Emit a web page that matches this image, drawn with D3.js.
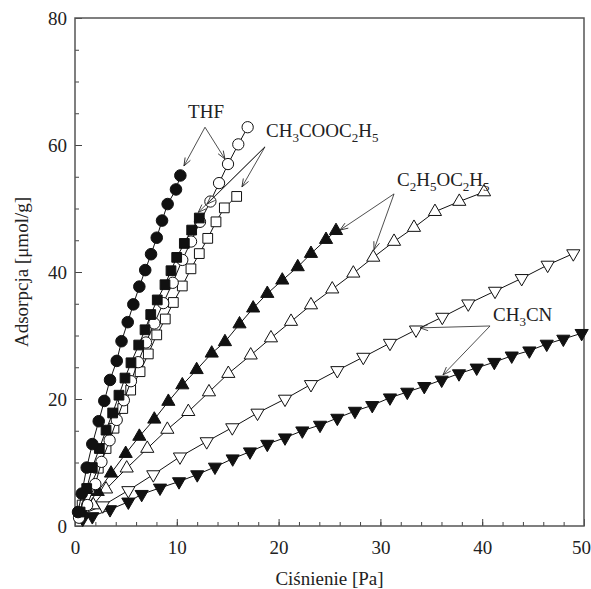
<!DOCTYPE html>
<html>
<head>
<meta charset="utf-8">
<script src="https://cdn.jsdelivr.net/npm/d3@7"></script>
<style>
  body { margin: 0; background: #fff; }
  svg text { font-family: "Liberation Serif", "Times New Roman", serif; fill: #222; }
</style>
</head>
<body>
<script>
// chart size
var width = 591;
var height = 589;
var margin = {top: 18, right: 7, bottom: 63, left: 75};

// THF, filled circles
var thfFilledX = [0.3, 0.66, 1.15, 1.7, 2.33, 2.88, 3.44, 4.1, 4.57, 5.18, 5.73, 6.32, 6.9, 7.47, 8.03, 8.55, 9.1, 9.92, 10.35];
var thfFilledY = [2.2, 5.1, 9.2, 12.9, 16.5, 19.7, 23.0, 26.0, 29.1, 32.1, 34.9, 37.7, 40.3, 42.8, 45.4, 48.1, 50.7, 53.0, 55.2];
// THF, open circles
var thfOpenX = [0.4, 1.2, 2.0, 2.6, 3.4, 4.1, 4.8, 5.5, 6.2, 6.97, 7.79, 8.67, 9.6, 10.54, 11.4, 12.28, 13.3, 14.15, 15.03, 16.04, 16.96];
var thfOpenY = [1.3, 3.3, 6.6, 10.1, 13.5, 16.7, 19.8, 22.8, 25.8, 28.9, 31.9, 35.1, 38.3, 41.9, 44.8, 47.9, 51.1, 54.0, 57.0, 60.1, 62.8];
// CH3COOC2H5, filled squares
var acFilledX = [0.5, 1.15, 1.7, 2.39, 3.05, 3.7, 4.32, 4.91, 5.5, 6.26, 6.88, 7.44, 8.08, 8.84, 9.43, 9.99, 10.74, 11.46, 12.21];
var acFilledY = [2.2, 5.9, 9.2, 12.2, 15.1, 17.8, 20.6, 23.3, 25.7, 28.5, 30.9, 33.3, 35.6, 38.0, 40.2, 42.3, 44.5, 46.6, 48.5];
// CH3COOC2H5, open squares
var acOpenX = [0.7, 1.4, 2.29, 3.05, 3.83, 4.69, 5.47, 6.39, 7.2, 8.03, 8.87, 9.66, 10.54, 11.39, 12.21, 13.04, 13.85, 14.67, 15.88];
var acOpenY = [3.3, 5.9, 9.1, 12.2, 15.4, 18.5, 21.4, 24.3, 27.1, 30.1, 32.6, 35.2, 37.8, 40.5, 42.9, 45.3, 47.9, 50.1, 51.9];
// C2H5OC2H5, filled triangles
var etFilledX = [0.66, 2.23, 3.54, 4.98, 6.32, 7.79, 9.17, 10.54, 11.95, 13.43, 14.73, 16.16, 17.5, 18.89, 20.36, 21.88, 23.18, 24.66, 25.64];
var etFilledY = [2.3, 5.4, 8.3, 11.4, 14.1, 16.8, 19.6, 22.2, 24.6, 27.2, 29.0, 31.8, 34.3, 36.6, 38.7, 40.8, 42.9, 45.1, 46.5];
// C2H5OC2H5, open triangles
var etOpenX = [1.8, 3.05, 5.08, 7.1, 9.07, 11.13, 13.16, 15.06, 17.26, 19.25, 21.22, 23.18, 25.27, 27.34, 29.3, 31.34, 33.3, 35.36, 37.75, 40.18];
var etOpenY = [3.3, 5.8, 9.1, 12.2, 15.2, 18.0, 21.1, 24.0, 26.9, 29.6, 32.2, 34.8, 37.3, 39.8, 42.3, 44.8, 47.0, 49.5, 51.1, 52.6];
// CH3CN, open down triangles
var cnOpenX = [0.5, 2.72, 5.24, 7.69, 10.31, 12.94, 15.45, 17.93, 20.63, 23.18, 25.77, 28.32, 30.94, 33.5, 36.08, 38.63, 41.26, 43.88, 46.43, 48.95];
var cnOpenY = [1.7, 3.2, 5.6, 8.1, 10.9, 13.3, 15.5, 17.8, 20.0, 22.3, 24.5, 26.6, 28.8, 30.9, 32.9, 35.0, 37.0, 39.0, 41.1, 42.9];
// CH3CN, filled down triangles
var cnFilledX = [0.76, 1.7, 3.44, 5.24, 6.55, 8.35, 10.22, 12.01, 13.75, 15.49, 17.19, 18.89, 20.63, 22.33, 24.07, 25.77, 27.5, 29.2, 30.94, 32.64, 34.31, 36.02, 37.72, 39.46, 41.19, 42.9, 44.63, 46.34, 47.97, 49.77];
var cnFilledY = [1.1, 1.5, 2.6, 3.8, 5.0, 6.0, 7.0, 8.1, 9.3, 10.6, 11.7, 12.9, 13.9, 15.0, 15.9, 17.0, 18.1, 19.0, 20.2, 21.1, 22.0, 23.0, 24.0, 24.9, 25.8, 26.8, 27.6, 28.66, 29.45, 30.35];

var xTicks = [0, 10, 20, 30, 40, 50];
var yTicks = [0, 20, 40, 60, 80];

var w = width - margin.left - margin.right;
var h = height - margin.top - margin.bottom;

var x = d3.scaleLinear().domain([0, 50]).range([0, w]);
var y = d3.scaleLinear().domain([0, 80]).range([h, 0]);

var svg = d3.select("body").append("svg")
    .attr("width", width)
    .attr("height", height)
    .attr("font-family", "Liberation Serif, Times New Roman, serif");

var defs = svg.append("defs");
defs.append("marker")
    .attr("id", "arr")
    .attr("viewBox", "-9 -5 10 10")
    .attr("refX", 0).attr("refY", 0)
    .attr("markerWidth", 10).attr("markerHeight", 10)
    .attr("markerUnits", "userSpaceOnUse")
    .attr("orient", "auto")
  .append("path")
    .attr("d", "M-8,-3 L0,0 L-8,3")
    .attr("fill", "none")
    .attr("stroke", "#222")
    .attr("stroke-width", 0.8);

var g = svg.append("g").attr("transform", "translate(" + margin.left + "," + margin.top + ")");

function clean(s) {
  s.select(".domain").remove();
  s.attr("font-family", null).attr("font-size", null);
}

// minor + major ticks, drawn inward
g.append("g").attr("transform", "translate(0," + h + ")")
  .call(d3.axisBottom(x).tickValues(d3.range(0, 51, 2)).tickSizeInner(-4).tickSizeOuter(0).tickFormat(""))
  .call(clean);
var xAx = g.append("g").attr("transform", "translate(0," + h + ")")
  .call(d3.axisBottom(x).tickValues(xTicks).tickSizeInner(-7).tickSizeOuter(0).tickPadding(15))
  .call(clean);
g.append("g")
  .call(d3.axisLeft(y).tickValues(d3.range(0, 81, 5)).tickSizeInner(-4).tickSizeOuter(0).tickFormat(""))
  .call(clean);
g.append("g")
  .call(d3.axisLeft(y).tickValues(yTicks).tickSizeInner(-7).tickSizeOuter(0).tickPadding(8))
  .call(clean);

g.selectAll(".tick line").attr("stroke", "#444").attr("stroke-width", 1);
g.selectAll(".tick text")
  .style("font-size", "19px")
  .attr("fill", "#222");
// keep the last x label inside the picture
xAx.selectAll(".tick text").filter(function(d) { return d === 50; }).attr("dx", -3);

// frame
g.append("rect")
  .attr("width", w).attr("height", h)
  .attr("fill", "none")
  .attr("stroke", "#555")
  .attr("stroke-width", 1.5);

var line = d3.line().x(function(d) { return x(d[0]); }).y(function(d) { return y(d[1]); });

function drawSeries(xs, ys, shape, filled, size, rot) {
  var pts = xs.map(function(v, i) { return [v, ys[i]]; });
  g.append("path")
    .datum(pts)
    .attr("d", line)
    .attr("fill", "none")
    .attr("stroke", "#111")
    .attr("stroke-width", 1);
  g.selectAll(null)
    .data(pts)
    .enter()
    .append("path")
    .attr("d", d3.symbol().type(shape).size(size))
    .attr("transform", function(d) {
      return "translate(" + x(d[0]) + "," + y(d[1]) + ")" + (rot ? " rotate(180)" : "");
    })
    .attr("fill", filled ? "#111" : "#fff")
    .attr("stroke", "#111")
    .attr("stroke-width", 1);
}

drawSeries(cnFilledX, cnFilledY, d3.symbolTriangle, true, 75, true);
drawSeries(cnOpenX, cnOpenY, d3.symbolTriangle, false, 75, true);
drawSeries(etOpenX, etOpenY, d3.symbolTriangle, false, 75, false);
drawSeries(etFilledX, etFilledY, d3.symbolTriangle, true, 75, false);
drawSeries(acOpenX, acOpenY, d3.symbolSquare, false, 95, false);
drawSeries(thfOpenX, thfOpenY, d3.symbolCircle, false, 100, false);
drawSeries(acFilledX, acFilledY, d3.symbolSquare, true, 95, false);
drawSeries(thfFilledX, thfFilledY, d3.symbolCircle, true, 105, false);

// annotation arrows: [fromX, fromY, toX, toY] in data units
var arrows = [
  [12.77, 62.8, 10.7, 56.7], [12.77, 62.8, 14.73, 57.8],
  [18.66, 59.7, 12.11, 49.4], [18.66, 59.7, 12.97, 50.7], [18.66, 59.7, 16.4, 53.4],
  [31.34, 52.3, 26.03, 46.6], [31.34, 52.3, 29.37, 43.5],
  [40.77, 31.5, 33.89, 31.2], [40.77, 31.5, 36.15, 23.8]
];
g.selectAll(null)
  .data(arrows)
  .enter()
  .append("line")
  .attr("x1", function(d) { return x(d[0]); })
  .attr("y1", function(d) { return y(d[1]); })
  .attr("x2", function(d) { return x(d[2]); })
  .attr("y2", function(d) { return y(d[3]); })
  .attr("stroke", "#222")
  .attr("stroke-width", 0.8)
  .attr("marker-end", "url(#arr)");

// labels, with subscripts as [text, isSub]
var labels = [
  {x: 12.87, y: 64.3, anchor: "middle", parts: [["THF", 0]]},
  {x: 18.76, y: 61.3, anchor: "start", parts: [["CH", 0], ["3", 1], ["COOC", 0], ["2", 1], ["H", 0], ["5", 1]]},
  {x: 31.63, y: 53.5, anchor: "start", parts: [["C", 0], ["2", 1], ["H", 0], ["5", 1], ["OC", 0], ["2", 1], ["H", 0], ["5", 1]]},
  {x: 41.06, y: 32.3, anchor: "start", parts: [["CH", 0], ["3", 1], ["CN", 0]]}
];
labels.forEach(function(l) {
  var t = g.append("text")
    .attr("x", x(l.x))
    .attr("y", y(l.y))
    .attr("text-anchor", l.anchor)
    .style("font-size", "19px");
  var prevSub = 0;
  l.parts.forEach(function(p) {
    var dy = p[1] && !prevSub ? 5 : (!p[1] && prevSub ? -5 : 0);
    t.append("tspan")
      .attr("dy", dy)
      .style("font-size", p[1] ? "13px" : "19px")
      .text(p[0]);
    prevSub = p[1];
  });
});

// axis titles
svg.append("text")
  .attr("x", margin.left + w / 2)
  .attr("y", 585)
  .attr("text-anchor", "middle")
  .style("font-size", "19px")
  .text("Ciśnienie [Pa]");

svg.append("text")
  .attr("transform", "translate(28," + (margin.top + h / 2) + ") rotate(-90)")
  .attr("text-anchor", "middle")
  .style("font-size", "19px")
  .text("Adsorpcja [μmol/g]");
</script>
</body>
</html>
